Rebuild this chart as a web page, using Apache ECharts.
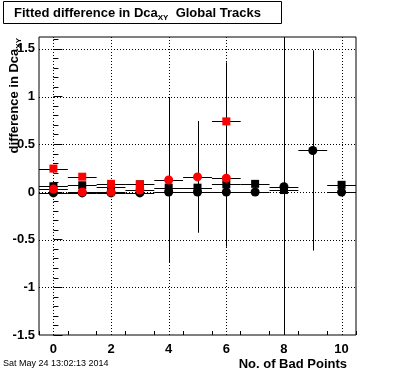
<!DOCTYPE html>
<html>
<head>
<meta charset="utf-8">
<script src="https://cdn.jsdelivr.net/npm/echarts@6/dist/echarts.min.js"></script>
<style>
html,body{margin:0;padding:0;background:#fff;}
#c{width:396px;height:372px;}
</style>
</head>
<body>
<div id="c"></div>
<script>
// ---- data ----
const xBins = [0, 1, 2, 3, 4, 5, 6, 7, 8, 9, 10];
const blackSquareY   = [0.06, 0.07, 0.05, 0.08, 0.045, 0.045, 0.08, 0.085, 0.02, null, 0.075];
const blackSquareErr = [0.01, 0.01, 0.01, 0.01, 0.01, 0.01, 0.01, 0.01, 0.01, null, 0.01];
const blackCircleY   = [-0.01, -0.01, -0.01, -0.01, 0.0, 0.0, 0.0, 0.0, 0.055, 0.435, 0.0];
const blackCircleErr = [0.01, 0.01, 0.01, 0.01, 0.01, 0.01, 0.01, 0.01, 2.5, 1.05, 0.01];
const redSquareY     = [0.245, 0.16, 0.085, 0.08, null, null, 0.74];
const redSquareErr   = [0.02, 0.02, 0.02, 0.02, null, null, 0.62];
const redCircleY     = [0.03, 0.0, 0.0, 0.02, 0.125, 0.158, 0.145];
const redCircleErr   = [0.01, 0.01, 0.01, 0.01, 0.87, 0.586, 0.72];

const xMajorTicks = [0, 2, 4, 6, 8, 10];
const xMidTicks = [1, 3, 5, 7, 9];
const xMinorTicks = [-0.5, 0.5, 1.5, 2.5, 3.5, 4.5, 5.5, 6.5, 7.5, 8.5, 9.5, 10.5];
const yMajorTicks = [-1.5, -1, -0.5, 0, 0.5, 1, 1.5];
const yMinorTicks = [];
for (let v = -15; v <= 16; v++) { if (v % 5 !== 0) yMinorTicks.push(v / 10); }

const xMin = -0.5, xMax = 10.5, yMin = -1.5, yMax = 1.625;
const halfBin = 0.5;
const FONT = '"Liberation Sans", Arial, Helvetica, sans-serif';

const chart = echarts.init(document.getElementById('c'), null, {renderer: 'canvas'});

function build(ys, es) {
  const out = [];
  for (let i = 0; i < ys.length; i++) {
    if (ys[i] == null) continue;
    out.push([xBins[i], ys[i], es[i]]);
  }
  return out;
}
const crisp = v => Math.round(v) + 0.5;

function errorBars(data) {
  return {
    type: 'custom', xAxisIndex: 0, yAxisIndex: 0, z: 3, silent: true,
    data: data, encode: {x: 0, y: 1},
    renderItem: function (params, api) {
      const x = api.value(0), y = api.value(1), e = api.value(2);
      const lo = Math.max(y - e, yMin), hi = Math.min(y + e, yMax);
      const pL = api.coord([Math.max(x - halfBin, xMin), y]);
      const pR = api.coord([Math.min(x + halfBin, xMax), y]);
      const pB = api.coord([x, lo]);
      const pT = api.coord([x, hi]);
      const st = {stroke: '#000', lineWidth: 1};
      return {type: 'group', children: [
        {type: 'line', shape: {x1: pL[0], y1: crisp(pL[1]), x2: pR[0], y2: crisp(pR[1])}, style: st},
        {type: 'line', shape: {x1: crisp(pB[0]), y1: pB[1], x2: crisp(pT[0]), y2: pT[1]}, style: st}
      ]};
    }
  };
}
function markers(data, symbol, size, color, z) {
  return {
    type: 'scatter', xAxisIndex: 0, yAxisIndex: 0, z: z, silent: true,
    symbol: symbol, symbolSize: size,
    itemStyle: {color: color, opacity: 1},
    data: data.map(d => [d[0], d[1]])
  };
}
function gridLines(vals, vertical) {
  return {
    type: 'custom', xAxisIndex: 0, yAxisIndex: 0, z: 2, silent: true,
    data: vals.map(v => vertical ? [v, 0] : [0, v]),
    encode: {x: 0, y: 1},
    renderItem: function (params, api) {
      const cs = params.coordSys;
      const p = api.coord([api.value(0), api.value(1)]);
      const st = {stroke: '#000', lineWidth: 1, lineDash: [1, 2]};
      if (vertical) {
        return {type: 'line', shape: {x1: crisp(p[0]), y1: cs.y, x2: crisp(p[0]), y2: cs.y + cs.height}, style: st};
      }
      return {type: 'line', shape: {x1: cs.x, y1: crisp(p[1]), x2: cs.x + cs.width, y2: crisp(p[1])}, style: st};
    }
  };
}
function xAx(ticks, len, labels) {
  return {
    type: 'value', min: xMin, max: xMax, position: 'bottom', offset: 0,
    axisLine: {show: false}, splitLine: {show: false},
    axisTick: {show: true, inside: true, length: len, customValues: ticks, lineStyle: {color: '#000', width: 1}},
    axisLabel: labels ? {show: true, customValues: ticks, color: '#000', fontSize: 13, fontWeight: 'bold', fontFamily: FONT, margin: 8} : {show: false}
  };
}
function yAx(ticks, len, labels) {
  return {
    type: 'value', min: yMin, max: yMax, position: 'left', offset: 0,
    axisLine: {show: false}, splitLine: {show: false},
    axisTick: {show: true, inside: true, length: len, customValues: ticks, lineStyle: {color: '#000', width: 1}},
    axisLabel: labels ? {show: true, customValues: ticks, color: '#000', fontSize: 13, fontWeight: 'bold', fontFamily: FONT, margin: 4} : {show: false}
  };
}

const bs = build(blackSquareY, blackSquareErr);
const bc = build(blackCircleY, blackCircleErr);
const rs = build(redSquareY, redSquareErr);
const rc = build(redCircleY, redCircleErr);

const rich = {
  a: {fontSize: 13, fontWeight: 'bold', fontFamily: FONT, color: '#000', lineHeight: 18},
  s: {fontSize: 8, fontWeight: 'bold', fontFamily: FONT, color: '#000', lineHeight: 8, verticalAlign: 'bottom'}
};

chart.setOption({
  animation: false,
  backgroundColor: '#fff',
  grid: {left: 39, right: 40, top: 37, bottom: 37, show: true, borderColor: '#000', borderWidth: 1, backgroundColor: 'transparent'},
  xAxis: [xAx(xMajorTicks, 9, true), xAx(xMidTicks, 6, false), xAx(xMinorTicks, 4, false)],
  yAxis: [yAx(yMajorTicks, 9, true), yAx(yMinorTicks, 5, false)],
  series: [
    gridLines(xMajorTicks, true),
    gridLines(yMajorTicks.filter(v => v > yMin), false),
    errorBars(bs), errorBars(bc), errorBars(rs), errorBars(rc),
    markers(bs, 'rect', 8, '#000', 4),
    markers(bc, 'circle', 9, '#000', 5),
    markers(rs, 'rect', 8, '#ff0000', 6),
    markers(rc, 'circle', 9, '#ff0000', 7)
  ],
  graphic: [
    {type: 'rect', z: 10, shape: {x: 3.5, y: 1.5, width: 278, height: 22}, style: {fill: '#fff', stroke: '#000', lineWidth: 1}},
    {type: 'text', z: 11, x: 14, y: 13, style: {text: '{a|Fitted difference in Dca}{s|XY}{a|  Global Tracks}', rich: rich, verticalAlign: 'middle', align: 'left'}},
    {type: 'text', z: 11, x: 14, y: 38, rotation: Math.PI / 2, style: {text: '{a|difference in Dca}{s|XY}', rich: rich, verticalAlign: 'middle', align: 'right'}},
    {type: 'text', z: 11, x: 347, y: 364, style: {text: 'No. of Bad Points', fontSize: 13, fontWeight: 'bold', fontFamily: FONT, fill: '#000', align: 'right', verticalAlign: 'middle'}},
    {type: 'text', z: 11, x: 3, y: 364, style: {text: 'Sat May 24 13:02:13 2014', fontSize: 9, fontFamily: FONT, fill: '#000', align: 'left', verticalAlign: 'middle'}}
  ]
});
</script>
</body>
</html>
